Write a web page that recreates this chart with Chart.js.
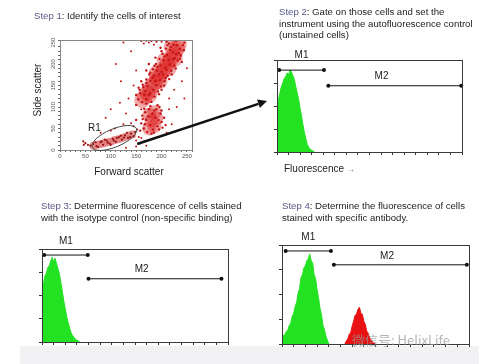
<!DOCTYPE html>
<html>
<head>
<meta charset="utf-8">
<script src="https://cdn.jsdelivr.net/npm/chart.js@4"></script>
<style>
  html, body { margin: 0; padding: 0; background: #fff; }
  #page { position: relative; width: 500px; height: 364px; overflow: hidden;
          font-family: "Liberation Sans", Arial, sans-serif; color: #222; }
  .layer { position: absolute; left: 0; top: 0; }
  .txt { position: absolute; white-space: nowrap; font-size: 9.6px; line-height: 11.5px; }
  .k { color: #57578c; }
  .axt { position: absolute; white-space: nowrap; font-size: 10px; line-height: 12px; text-align: center; color: #222; }
  #band { position: absolute; left: 20px; top: 346px; width: 459px; height: 18px; background: #f2f2f4; }
  #wm { position: absolute; left: 352px; top: 332px; font-family: "Noto Sans CJK SC", sans-serif;
        font-size: 13px; line-height: 16px; color: rgba(150,150,150,0.7); white-space: nowrap; }
</style>
</head>
<body>
<div id="page">
  <div id="band"></div>
  <canvas id="c2" class="layer" width="500" height="364"></canvas>
  <canvas id="c3" class="layer" width="500" height="364"></canvas>
  <canvas id="c4" class="layer" width="500" height="364"></canvas>
  <canvas id="c1" class="layer" width="500" height="364"></canvas>

  <div class="txt" style="left:34px;top:10px"><span class="k">Step 1</span>: Identify the cells of interest</div>
  <div class="txt" style="left:279px;top:6px"><span class="k">Step 2</span>: Gate on those cells and set the<br>instrument using the autofluorescence control<br>(unstained cells)</div>
  <div class="txt" style="left:41px;top:200px"><span class="k">Step 3</span>: Determine fluorescence of cells stained<br>with the isotype control (non-specific binding)</div>
  <div class="txt" style="left:282px;top:200px"><span class="k">Step 4</span>: Determine the fluorescence of cells<br>stained with specific antibody.</div>

  <div class="axt" style="left:8px;top:84px;width:60px;transform:rotate(-90deg)">Side scatter</div>
  <div class="axt" style="left:89px;top:166px;width:80px">Forward scatter</div>
  <div class="axt" style="left:284px;top:163px;text-align:left">Fluorescence <span style="font-size:8px;color:#666">&rarr;</span></div>
  <div id="wm">微信号: HelixLife</div>
</div>
<script>
// ---- step 1: forward / side scatter ----
const scatterTicks = [0, 50, 100, 150, 200, 250];

// dense centres of the three populations
const upperCore = [[162,116],[167,124],[172,133],[177,141],[182,150],[187,158],[192,167],[197,175],[202,184],
  [207,192],[212,201],[217,210],[222,219],[227,228],[231,237],[234,246],[176,128],[196,160],[214,190],[226,212],
  [190,178],[206,208],[220,240]];
const midCore = [[176,50],[186,56],[180,68],[190,74],[176,82],[186,88]];
const lowCore = [[66,10],[73,12],[80,14],[87,16],[94,18],[101,20],[108,23],[115,25],[122,28],[129,31],[136,33],[142,36]];

// single events
const upperDots = [[180,112],[150,128],[186,124],[157,140],[175,128],[168,137],[193,136],[163,152],[184,140],[172,149],
  [199,148],[170,164],[190,151],[178,161],[206,160],[176,176],[197,163],[185,173],[212,172],[183,188],[203,175],[191,185],
  [219,184],[189,200],[210,187],[198,197],[225,196],[196,212],[216,199],[204,209],[232,208],[202,224],[223,211],[211,221],
  [238,220],[209,236],[229,223],[217,233],[244,232],[215,248],[236,235],[224,245],[195,130],[160,160],[150,105],[240,205],
  [228,254],[210,252],[205,150],[170,185],[215,165],[188,215],[245,250],[155,145],[200,230],[175,200],[162,112],[170,118],
  [178,132],[166,128],[188,160],[195,176],[182,168],[208,192],[200,182],[214,210],[222,228],[230,244],[192,194],[206,218],
  [218,240],[234,226],[226,214],[160,254],[170,255],[180,254],[190,255],[154,118],[158,132],[164,146],[170,156],[200,140],
  [208,168],[220,176],[228,190],[236,212],[242,244],[198,238],[186,196],[178,180],[212,244]];
const midDots = [[165,50],[170,70],[168,88],[175,95],[190,95],[198,85],[200,65],[195,48],[185,40],[172,42],[160,62],
  [178,58],[188,75],[182,85],[192,55],[205,75],[162,80],[178,102],[196,100],[158,45],[208,58],[170,108],[150,70],[183,48],
  [174,78],[194,70],[167,60],[186,92],[163,72],[200,92],[202,52],[180,38],[166,96],[192,104]];
const lowDots = [[60,10],[65,14],[72,9],[80,18],[85,12],[92,22],[98,15],[104,26],[110,19],[116,30],[122,24],[128,34],
  [134,28],[140,38],[145,32],[148,42],[70,18],[88,24],[100,12],[120,33],[132,40],[75,7],[112,28],[138,30],[55,12],[50,16],
  [46,20],[47,12],[82,20],[94,17],[106,22],[126,29]];
const strayDots = [[150,22],[155,30],[152,48],[158,15],[145,55],[140,62],[130,85],[118,110],[125,60],[100,45],[90,75],
  [135,120],[145,150],[150,185],[140,230],[165,248],[175,250],[120,160],[110,200],[100,95],[160,95],[215,120],[225,140],
  [240,160],[250,190],[245,120],[230,100],[215,95],[210,40],[220,60],[160,28],[165,20],[108,50],[80,40],[130,5],[150,8],
  [170,10],[125,250],[190,252],[200,252],[185,245]];

// ---- steps 2-4: fluorescence histograms, counts per 2-channel bin ----
const BIN = 2;
const step2Green = [52,57,64,71,75,80,82,86,84,89,87,83,79,71,64,57,47,39,29,21,14,8,5,3,2,1,0];
const step3Green = [60,63,71,74,80,82,87,91,86,90,84,79,73,64,54,44,36,27,21,15,10,7,5,3,2,1,0];
const step4Green = [5,9,9,13,14,19,21,28,31,38,42,51,56,67,70,77,79,84,86,91,84,82,70,66,55,47,36,30,19,15,8,4,0];
const step4Red = [0,3,5,10,11,18,23,29,30,35,37,31,30,23,20,13,11,6,4,2,1,0];
const step4RedStart = 86;

// marker gates, channel from / to
const step2M1 = [3, 65], step2M2 = [71, 255];
const step3M1 = [3, 63], step3M2 = [64, 247];
const step4M1 = [5, 67], step4M2 = [71, 253];

const GREEN = '#22e222';
const RED = '#e81212';

const pts = arr => arr.map(p => ({ x: p[0], y: p[1] }));
const bins = (arr, start) => arr.map((v, i) => ({ x: start + i * BIN, y: v }));

const frame = {
    id: 'frame',
    afterDraw(chart, args, opts) {
        const a = chart.chartArea, ctx = chart.ctx;
        ctx.save();
        ctx.strokeStyle = opts.color || '#444';
        ctx.lineWidth = 1;
        ctx.strokeRect(Math.round(a.left) + 0.5, Math.round(a.top) + 0.5,
            Math.round(a.right - a.left), Math.round(a.bottom - a.top));
        ctx.restore();
    }
};

const gateLabels = {
    id: 'gateLabels',
    afterDatasetsDraw(chart) {
        const ctx = chart.ctx;
        chart.data.datasets.forEach((ds, i) => {
            if (!ds.gate) return;
            const p = chart.getDatasetMeta(i).data;
            const x = p[0].x + (p[1].x - p[0].x) * ds.at;
            ctx.save();
            ctx.font = '10px "Liberation Sans", Arial, sans-serif';
            ctx.fillStyle = '#222';
            ctx.textAlign = 'center';
            ctx.textBaseline = 'middle';
            ctx.fillText(ds.label, x, p[0].y - ds.gap);
            ctx.restore();
        });
    }
};

// rotated y labels, the gate ellipse and the arrow into step 2
const scatterExtras = {
    id: 'scatterExtras',
    afterDraw(chart) {
        const ctx = chart.ctx, xs = chart.scales.x, ys = chart.scales.y;
        ctx.save();
        ctx.font = '6px "Liberation Sans", Arial, sans-serif';
        ctx.fillStyle = '#555';
        ctx.textAlign = 'center';
        ctx.textBaseline = 'middle';
        scatterTicks.forEach(v => {
            ctx.save();
            ctx.translate(chart.chartArea.left - 7, ys.getPixelForValue(v));
            ctx.rotate(-Math.PI / 2);
            ctx.fillText(String(v), 0, 0);
            ctx.restore();
        });

        // R1 gate
        const cx = xs.getPixelForValue(107), cy = ys.getPixelForValue(28);
        ctx.beginPath();
        ctx.ellipse(cx, cy, 24, 9, -0.4, 0, Math.PI * 2);
        ctx.strokeStyle = '#444';
        ctx.lineWidth = 1;
        ctx.stroke();
        ctx.font = '10px "Liberation Sans", Arial, sans-serif';
        ctx.fillStyle = '#222';
        ctx.fillText('R1', cx - 20, cy - 10);

        // arrow
        const x0 = xs.getPixelForValue(152), y0 = ys.getPixelForValue(14);
        const x1 = 267, y1 = 101;
        const len = Math.hypot(x1 - x0, y1 - y0);
        const ux = (x1 - x0) / len, uy = (y1 - y0) / len;
        const bx = x1 - ux * 9, by = y1 - uy * 9;
        ctx.strokeStyle = '#111';
        ctx.lineWidth = 2.5;
        ctx.beginPath();
        ctx.moveTo(x0, y0);
        ctx.lineTo(bx, by);
        ctx.stroke();
        ctx.fillStyle = '#111';
        ctx.beginPath();
        ctx.moveTo(x1, y1);
        ctx.lineTo(bx - uy * 4.5, by + ux * 4.5);
        ctx.lineTo(bx + uy * 4.5, by - ux * 4.5);
        ctx.closePath();
        ctx.fill();
        ctx.restore();
    }
};

const dotSet = (data, color, r) => ({ data: pts(data), backgroundColor: color, borderWidth: 0, pointRadius: r });

new Chart(document.getElementById('c1'), {
    type: 'scatter',
    data: {
        datasets: [
            dotSet(strayDots, '#c41414', 1),
            dotSet(upperDots, '#c41414', 1.2),
            dotSet(midDots, '#c41414', 1.2),
            dotSet(lowDots, '#9e1010', 1.1),
            dotSet(lowCore, 'rgba(226,128,128,0.85)', 4),
            dotSet(midCore, 'rgba(222,40,40,0.45)', 7),
            dotSet(upperCore, 'rgba(222,40,40,0.4)', 8)
        ]
    },
    options: {
        responsive: false,
        animation: false,
        layout: { padding: { left: 50, top: 40, right: 308, bottom: 202 } },
        plugins: { legend: { display: false }, tooltip: { enabled: false }, frame: { color: '#888' } },
        scales: {
            x: {
                min: 0, max: 260,
                afterFit: s => { s.height = 12; },
                ticks: { stepSize: 10, autoSkip: false, maxRotation: 0, padding: 1,
                    font: { size: 6 }, color: '#555',
                    callback: v => (v % 50 === 0 ? v : '') },
                grid: { drawOnChartArea: false, tickLength: 2, color: '#666' },
                border: { display: false }
            },
            y: {
                min: 0, max: 256,
                afterFit: s => { s.width = 10; },
                ticks: { stepSize: 10, display: false },
                grid: { drawOnChartArea: false, tickLength: 2, color: '#666' },
                border: { display: false }
            }
        }
    },
    plugins: [frame, scatterExtras]
});

function gate(label, range, level, at, gap) {
    return {
        label, gate: true, at, gap,
        data: [{ x: range[0], y: level }, { x: range[1], y: level }],
        borderColor: '#111', borderWidth: 1,
        pointRadius: 2, pointBackgroundColor: '#111', pointBorderWidth: 0,
        fill: false, clip: false
    };
}

function hist(data, start, color) {
    return {
        data: bins(data, start), borderColor: color, backgroundColor: color,
        borderWidth: 1, pointRadius: 0, fill: 'origin', tension: 0
    };
}

function histChart(id, box, datasets) {
    return new Chart(document.getElementById(id), {
        type: 'line',
        data: { datasets },
        options: {
            responsive: false,
            animation: false,
            layout: { padding: { left: box.left - 4, top: box.top, right: 500 - box.right, bottom: 364 - box.bottom - 4 } },
            plugins: { legend: { display: false }, tooltip: { enabled: false }, frame: { color: '#3a3a3a' } },
            scales: {
                x: {
                    type: 'linear', min: 0, max: 256,
                    afterFit: s => { s.height = 4; },
                    ticks: { display: false, stepSize: 16 },
                    grid: { drawOnChartArea: false, tickLength: 3, color: '#333' },
                    border: { display: false }
                },
                y: {
                    min: 0, max: 100,
                    afterFit: s => { s.width = 4; },
                    ticks: { display: false, stepSize: 25 },
                    grid: { drawOnChartArea: false, tickLength: 3, color: '#333' },
                    border: { display: false }
                }
            }
        },
        plugins: [frame, gateLabels]
    });
}

histChart('c2', { left: 277, top: 60, right: 462, bottom: 152 }, [
    gate('M1', step2M1, 89, 0.5, 15),
    gate('M2', step2M2, 72, 0.4, 10),
    hist(step2Green, 0, GREEN)
]);

histChart('c3', { left: 42, top: 249, right: 228, bottom: 342 }, [
    gate('M1', step3M1, 93.5, 0.5, 14),
    gate('M2', step3M2, 68, 0.4, 10),
    hist(step3Green, 0, GREEN)
]);

histChart('c4', { left: 282, top: 245, right: 469, bottom: 344 }, [
    gate('M1', step4M1, 94, 0.5, 14),
    gate('M2', step4M2, 80, 0.4, 9),
    hist(step4Green, 0, GREEN),
    hist(step4Red, step4RedStart, RED)
]);
</script>
</body>
</html>
